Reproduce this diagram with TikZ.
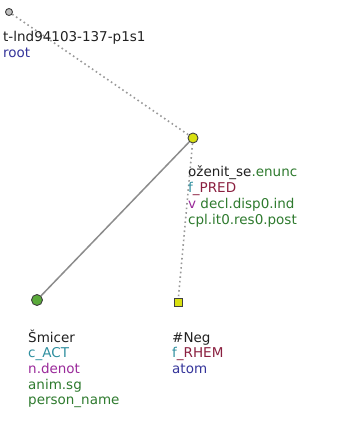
\documentclass[tikz,border=0pt]{standalone}
\usepackage{fontspec}
\setmainfont{DejaVu Sans}
\usepackage{tikz}

\definecolor{lemmacol}{HTML}{202020}
\definecolor{navycol}{HTML}{34349A}
\definecolor{tealcol}{HTML}{2F8F9F}
\definecolor{functcol}{HTML}{8A1F3F}
\definecolor{purplecol}{HTML}{9A2A9A}
\definecolor{greencol}{HTML}{2E7A2E}
\definecolor{predfill}{HTML}{D8E010}
\definecolor{actfill}{HTML}{5AAA3A}

\begin{document}
\begin{tikzpicture}[x=1pt,y=-1pt,
  tnode/.style={circle,draw=black!75,line width=0.9pt,inner sep=0pt,minimum size=10pt},
  attrs/.style={anchor=base west,align=left,inner sep=0pt,
    font=\fontsize{13.5}{15.7}\selectfont},
  tedge/.style={black!45,line width=1.5pt},
  hedge/.style={black!40,line width=1.6pt,dash pattern=on 1.6pt off 3pt}]
  \useasboundingbox (0,0) rectangle (350,441);
  % tree nodes
  \node[tnode,fill=black!25,minimum size=7pt] (root) at (9,12) {};
  \node[tnode,fill=predfill] (pred) at (193,138) {};
  \node[tnode,fill=actfill,minimum size=11pt] (act) at (37,300) {};
  \node[rectangle,draw=black!75,line width=0.9pt,fill=predfill,
    inner sep=0pt,minimum size=8pt] (rhem) at (178,302) {};
  % edges
  \draw[hedge] (root) -- (pred);
  \draw[tedge] (pred) -- (act);
  \draw[hedge] (pred) -- (rhem);
  % labels (base = last line)
  \node[attrs] (rootlbl) at (3,57.7) {\color{lemmacol}t-lnd94103-137-p1s1\\
    \color{navycol}root};
  \node[attrs] (predlbl) at (188,224) {{\color{lemmacol}oženit\_se}{\color{greencol}.enunc}\\
    {\color{tealcol}f}{\color{functcol}\_PRED}\\
    {\color{purplecol}v} {\color{greencol}decl.disp0.ind}\\
    \color{greencol}cpl.it0.res0.post};
  \node[attrs] (actlbl) at (28,404.8) {\color{lemmacol}Šmicer\\
    \color{tealcol}c\_ACT\\
    \color{purplecol}n.denot\\
    \color{greencol}anim.sg\\
    \color{greencol}person\_name};
  \node[attrs] (rhemlbl) at (172,373.4) {\color{lemmacol}\#Neg\\
    {\color{tealcol}f}{\color{functcol}\_RHEM}\\
    \color{navycol}atom};
\end{tikzpicture}
\end{document}
